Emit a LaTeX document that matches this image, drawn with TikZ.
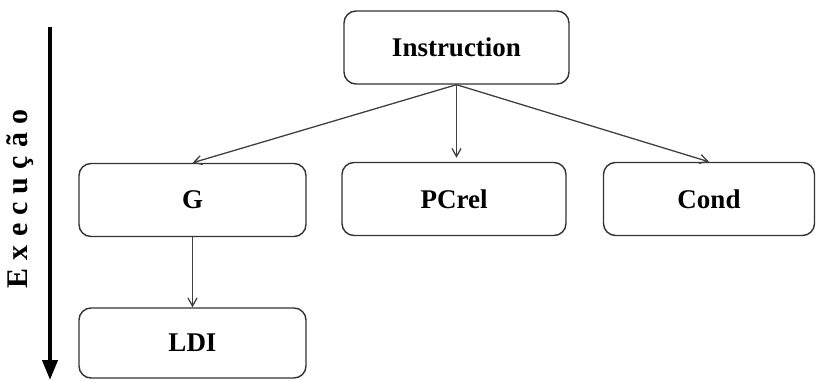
\documentclass[tikz,border=0pt]{standalone}
\usepackage{fontspec}
\setmainfont{Liberation Serif}
\newfontfamily\spacedfont[LetterSpace=27]{Liberation Serif}
\usetikzlibrary{arrows.meta}

\begin{document}
\begin{tikzpicture}[x=1pt,y=-1pt,
    box/.style={draw=black!80,line width=1.4pt,rounded corners=12pt,minimum height=73pt,
      font=\fontsize{27}{30}\selectfont\bfseries},
    link/.style={draw=black!75,line width=1.3pt,-{Straight Barb[length=8pt,width=9pt]}}]
    \useasboundingbox (0,0) rectangle (816,380);
    % boxes
    \node[box,minimum width=225pt] (instr) at (456.5,47.5) {Instruction};
    \node[box,minimum width=227pt] (g) at (192.5,200) {G};
    \node[box,minimum width=224pt] (pcrel) at (454,199) {PCrel};
    \node[box,minimum width=211pt] (cond) at (709,199) {Cond};
    \node[box,minimum width=227pt,minimum height=70pt] (ldi) at (192.5,343) {LDI};
    % connectors
    \draw[link] (instr.south) -- (g.north);
    \draw[link,shorten >=4pt] (instr.south) -- (instr.south |- pcrel.north);
    \draw[link] (instr.south) -- (cond.north);
    \draw[link] (g.south) -- (ldi.north);
    % execution axis
    \coordinate (axtop) at (50,27);
    \coordinate (axend) at (50,380);
    \draw[line width=4pt,-{Triangle[width=15pt,length=20pt]}] (axtop) -- (axend);
    \node[rotate=90,font=\fontsize{30}{32}\selectfont\bfseries\spacedfont] (exec) at (20,199) {Execução};
\end{tikzpicture}
\end{document}
